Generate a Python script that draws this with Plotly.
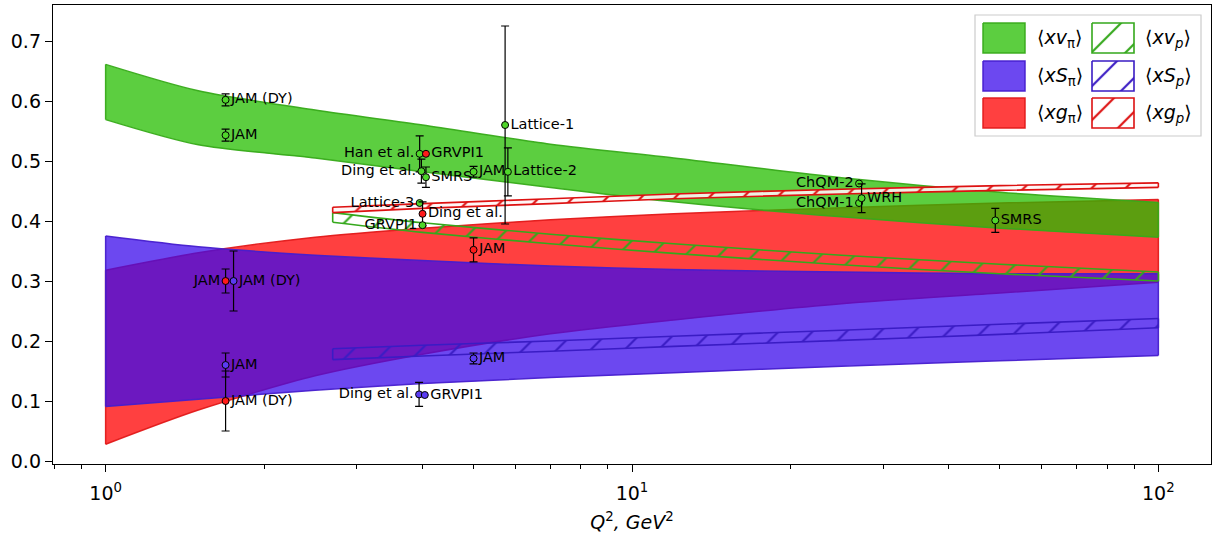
import plotly.graph_objects as go

# ---------------- pion bands (solid) ----------------
band_q2 = [1, 1.5, 2.5, 4, 7, 12, 25, 50, 100]
xv_pi_lo = [0.569, 0.527, 0.505, 0.482, 0.456, 0.432, 0.407, 0.388, 0.373]
xv_pi_hi = [0.661, 0.617, 0.585, 0.560, 0.528, 0.505, 0.472, 0.448, 0.431]
xs_pi_lo = [0.091, 0.103, 0.118, 0.129, 0.139, 0.147, 0.158, 0.167, 0.176]
xs_pi_hi = [0.375, 0.357, 0.343, 0.334, 0.325, 0.319, 0.315, 0.312, 0.312]
xg_pi_lo = [0.028, 0.085, 0.142, 0.178, 0.212, 0.235, 0.262, 0.280, 0.298]
xg_pi_hi = [0.318, 0.347, 0.373, 0.388, 0.402, 0.412, 0.422, 0.430, 0.436]

# ---------------- proton bands (hatched) ----------------
prot_q2 = [2.7, 4, 7, 12, 25, 50, 100]
xv_p_lo = [0.398, 0.381, 0.362, 0.346, 0.327, 0.312, 0.300]
xv_p_hi = [0.414, 0.397, 0.378, 0.362, 0.343, 0.328, 0.315]
xs_p_lo = [0.169, 0.175, 0.183, 0.191, 0.201, 0.211, 0.222]
xs_p_hi = [0.187, 0.193, 0.200, 0.208, 0.218, 0.228, 0.2375]
xg_p_lo = [0.414, 0.421, 0.429, 0.437, 0.445, 0.451, 0.456]
xg_p_hi = [0.423, 0.429, 0.437, 0.445, 0.453, 0.459, 0.4636]

# ---------------- data points ----------------
pt_label = ["JAM (DY)", "JAM", "JAM", "JAM (DY)", "JAM", "JAM (DY)",
            "Han et al.", "GRVPI1", "Ding et al.", "SMRS", "Lattice-3", "Ding et al.",
            "GRVPI1", "JAM", "Lattice-1", "Lattice-2", "JAM", "JAM",
            "Ding et al.", "GRVPI1", "ChQM-2", "ChQM-1", "WRH", "SMRS"]
pt_q2 = [1.69, 1.69, 1.69, 1.75, 1.69, 1.69,
         3.95, 4.06, 3.98, 4.06, 3.95, 4.0,
         4.0, 5.0, 5.74, 5.81, 5.0, 5.0,
         3.94, 4.04, 27.0, 27.0, 27.3, 49.0]
pt_val = [0.602, 0.543, 0.300, 0.300, 0.160, 0.100,
          0.512, 0.512, 0.483, 0.473, 0.430, 0.412,
          0.393, 0.482, 0.560, 0.482, 0.352, 0.171,
          0.111, 0.110, 0.4625, 0.430, 0.438, 0.401]
pt_err = [0.01, 0.01, 0.02, 0.05, 0.02, 0.05,
          0.03, None, 0.02, 0.017, None, 0.02,
          None, 0.009, 0.165, 0.04, 0.02, 0.009,
          0.02, None, None, None, 0.024, 0.02]
pt_series = ["v", "v", "g", "S", "S", "g",
             "v", "g", "v", "v", "v", "g",
             "v", "v", "v", "v", "g", "S",
             "S", "S", "v", "v", "v", "v"]
pt_side = ["right", "right", "left", "right", "right", "right",
           "left", "right", "left", "right", "left", "right",
           "left", "right", "right", "right", "right", "right",
           "left", "right", "left", "left", "right", "right"]

# ---------------- styles ----------------
FONT = "DejaVu Sans"
fill_col = {"v": "rgba(37,189,0,0.75)", "S": "rgba(59,11,235,0.75)", "g": "rgba(255,0,0,0.75)"}
edge_col = {"v": "rgba(55,170,25,0.95)", "S": "rgba(70,30,205,0.95)", "g": "rgba(225,25,25,0.95)"}
hatch_col = {"v": "#35a81c", "S": "#3a1cc4", "g": "#dd1111"}
hatch_bg = {"v": "rgba(0,0,0,0)", "S": "rgba(0,0,0,0)", "g": "rgba(255,246,246,0.9)"}
mark_col = {"v": "#4fd62a", "S": "#5a3cf2", "g": "#ff1a1a"}

fig = go.Figure()


def add_band(q2, lo, hi, key, hatched=False):
    if hatched:
        fill_kw = dict(fillcolor="rgba(0,0,0,0)",
                       fillpattern=dict(shape="/", fgcolor=hatch_col[key], bgcolor=hatch_bg[key],
                                        size=24, solidity=0.09, fillmode="replace"))
        lcol, lw = hatch_col[key], 1.6
    else:
        fill_kw = dict(fillcolor=fill_col[key])
        lcol, lw = edge_col[key], 1.5
    fig.add_trace(go.Scatter(x=q2, y=lo, mode="lines",
                             line=dict(color=lcol, width=lw, shape="spline", smoothing=0.8),
                             hoverinfo="skip", showlegend=False))
    fig.add_trace(go.Scatter(x=q2, y=hi, mode="lines", fill="tonexty",
                             line=dict(color=lcol, width=lw, shape="spline", smoothing=0.8),
                             hoverinfo="skip", showlegend=False, **fill_kw))
    # vertical end edges of the band
    for i in (0, -1):
        fig.add_trace(go.Scatter(x=[q2[i], q2[i]], y=[lo[i], hi[i]], mode="lines",
                                 line=dict(color=lcol, width=lw), hoverinfo="skip",
                                 showlegend=False))


# solid pion bands: red first, then blue, then green
add_band(band_q2, xg_pi_lo, xg_pi_hi, "g")
add_band(band_q2, xs_pi_lo, xs_pi_hi, "S")
add_band(band_q2, xv_pi_lo, xv_pi_hi, "v")
# hatched proton bands
add_band(prot_q2, xv_p_lo, xv_p_hi, "v", hatched=True)
add_band(prot_q2, xs_p_lo, xs_p_hi, "S", hatched=True)
add_band(prot_q2, xg_p_lo, xg_p_hi, "g", hatched=True)

# data points
for lab, q, v, e, s, side in zip(pt_label, pt_q2, pt_val, pt_err, pt_series, pt_side):
    tr = dict(x=[q], y=[v], mode="markers+text", text=[lab],
              textposition="middle " + side,
              textfont=dict(family=FONT, size=14.5, color="black"),
              marker=dict(size=7, color=mark_col[s], line=dict(color="black", width=1)),
              hoverinfo="skip", showlegend=False, cliponaxis=False)
    if e is not None:
        tr["error_y"] = dict(type="data", array=[e], visible=True, color="black",
                             thickness=1.2, width=4)
    fig.add_trace(go.Scatter(**tr))

# ---------------- custom legend (pixel overlay axes) ----------------
leg_cols_x = [(983, 1025), (1092, 1134)]
leg_rows_y = [(23, 53), (61, 91), (98, 128)]
leg_keys = ["v", "S", "g"]
leg_text_pi = ["⟨<i>xv</i><sub>π</sub>⟩", "⟨<i>xS</i><sub>π</sub>⟩", "⟨<i>xg</i><sub>π</sub>⟩"]
leg_text_p = ["⟨<i>xv</i><sub><i>p</i></sub>⟩", "⟨<i>xS</i><sub><i>p</i></sub>⟩", "⟨<i>xg</i><sub><i>p</i></sub>⟩"]

for i, key in enumerate(leg_keys):
    y0, y1 = leg_rows_y[i]
    (a0, a1), (b0, b1) = leg_cols_x
    fig.add_trace(go.Scatter(x=[a0, a1, a1, a0, a0], y=[y0, y0, y1, y1, y0], xaxis="x2", yaxis="y2",
                             mode="lines", fill="toself", fillcolor=fill_col[key],
                             line=dict(color=edge_col[key], width=1.5), hoverinfo="skip",
                             showlegend=False))
    fig.add_trace(go.Scatter(x=[b0, b1, b1, b0, b0], y=[y0, y0, y1, y1, y0], xaxis="x2", yaxis="y2",
                             mode="lines", fill="toself", fillcolor="rgba(0,0,0,0)",
                             fillpattern=dict(shape="/", fgcolor=hatch_col[key], bgcolor="white",
                                              size=24, solidity=0.09, fillmode="replace"),
                             line=dict(color=hatch_col[key], width=1.6), hoverinfo="skip",
                             showlegend=False))
    yc = (y0 + y1) / 2
    fig.add_annotation(x=1035, y=yc, xref="x2", yref="y2", text=leg_text_pi[i], showarrow=False,
                       xanchor="left", yanchor="middle", font=dict(family=FONT, size=19, color="black"))
    fig.add_annotation(x=1143, y=yc, xref="x2", yref="y2", text=leg_text_p[i], showarrow=False,
                       xanchor="left", yanchor="middle", font=dict(family=FONT, size=19, color="black"))

fig.add_shape(type="rect", xref="x2", yref="y2", x0=975, x1=1201, y0=15, y1=136,
              line=dict(color="#cccccc", width=1.2), fillcolor="rgba(255,255,255,0.8)", layer="below")

# ---------------- layout ----------------
minor_vals = [0.8, 0.9] + [k for k in range(2, 10)] + [10 * k for k in range(2, 10)]
fig.update_layout(
    width=1214, height=535,
    margin=dict(l=53, r=3, t=5, b=71, autoexpand=False),
    paper_bgcolor="white", plot_bgcolor="white",
    font=dict(family=FONT, color="black"),
    xaxis=dict(type="log", range=[-0.1, 2.1], showgrid=False, zeroline=False, automargin=False,
               showline=True, mirror=True, linecolor="black", linewidth=1.4,
               ticks="outside", ticklen=7, tickwidth=1.2, tickcolor="black",
               tickvals=[1, 10, 100], ticktext=["10<sup>0</sup>", "10<sup>1</sup>", "10<sup>2</sup>"],
               tickfont=dict(family=FONT, size=19), ticklabelstandoff=5,
               minor=dict(tickvals=minor_vals, ticks="outside", ticklen=4, tickwidth=1,
                          tickcolor="black", showgrid=False),
               title=dict(text="<i>Q</i><sup>2</sup><i>, GeV</i><sup>2</sup>",
                          font=dict(family=FONT, size=19), standoff=12)),
    yaxis=dict(range=[-0.005, 0.76], showgrid=False, zeroline=False, automargin=False,
               showline=True, mirror=True, linecolor="black", linewidth=1.4,
               ticks="outside", ticklen=7, tickwidth=1.2, tickcolor="black",
               tickvals=[0, 0.1, 0.2, 0.3, 0.4, 0.5, 0.6, 0.7], tickformat=".1f",
               tickfont=dict(family=FONT, size=19)),
    xaxis2=dict(overlaying="x", range=[53, 1211], visible=False, showgrid=False, automargin=False),
    yaxis2=dict(overlaying="y", range=[464, 5], visible=False, showgrid=False, automargin=False),
)

fig.write_html("out.html", config={"displayModeBar": False},
               post_script="document.body.style.margin='0';document.body.style.padding='0';")
